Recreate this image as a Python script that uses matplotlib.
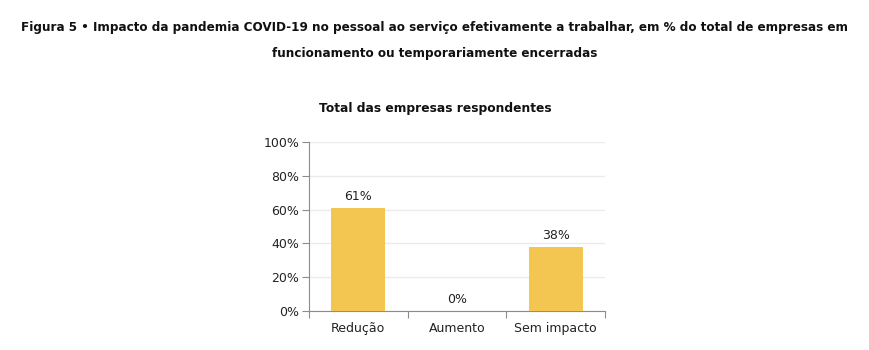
import matplotlib.pyplot as plt
import numpy as np

# Data
categories = ["Redução", "Aumento", "Sem impacto"]
values = [61, 0.3, 38]
labels = ["61%", "0%", "38%"]
yticks = [0, 20, 40, 60, 80, 100]

bar_color = "#F2C651"
grid_color = "#EBEBEB"
spine_color = "#8C8C8C"

fig = plt.figure(figsize=(8.69, 3.5), dpi=100)
ax = fig.add_axes([0.3556, 0.1114, 0.3406, 0.483])

x = np.arange(len(categories))
ax.bar(x, values, width=0.55, color=bar_color, zorder=3)

for xi, v, lab in zip(x, values, labels):
    ax.text(xi, v + 2.6, lab, ha="center", va="bottom", fontsize=9, color="#222222")

ax.set_xlim(-0.5, 2.5)
ax.set_ylim(0, 100)
ax.set_yticks(yticks)
ax.set_yticklabels([f"{t}%" for t in yticks], fontsize=9, color="#222222")
ax.yaxis.grid(True, color=grid_color, linewidth=1, zorder=0)

# category labels, boundary ticks
ax.set_xticks([-0.5, 0.5, 1.5, 2.5])
ax.set_xticklabels([])
ax.set_xticks(x, minor=True)
ax.set_xticklabels(categories, minor=True, fontsize=9, color="#222222")
ax.tick_params(axis="x", which="minor", length=0, pad=8)
ax.tick_params(axis="x", which="major", length=5, color=spine_color)
ax.tick_params(axis="y", length=5, color=spine_color, pad=2)

for side in ["top", "right"]:
    ax.spines[side].set_visible(False)
for side in ["left", "bottom"]:
    ax.spines[side].set_color(spine_color)

fig.text(0.5006, 0.691, "Total das empresas respondentes", ha="center", va="center",
         fontsize=8.8, fontweight="bold", color="#111111")

fig.text(0.5, 0.92,
         "Figura 5 • Impacto da pandemia COVID-19 no pessoal ao serviço efetivamente a trabalhar, em % do total de empresas em",
         ha="center", va="center", fontsize=8.65, fontweight="bold", color="#111111")
fig.text(0.5, 0.848, "funcionamento ou temporariamente encerradas",
         ha="center", va="center", fontsize=8.65, fontweight="bold", color="#111111")

fig.savefig("out.png", dpi=100)
